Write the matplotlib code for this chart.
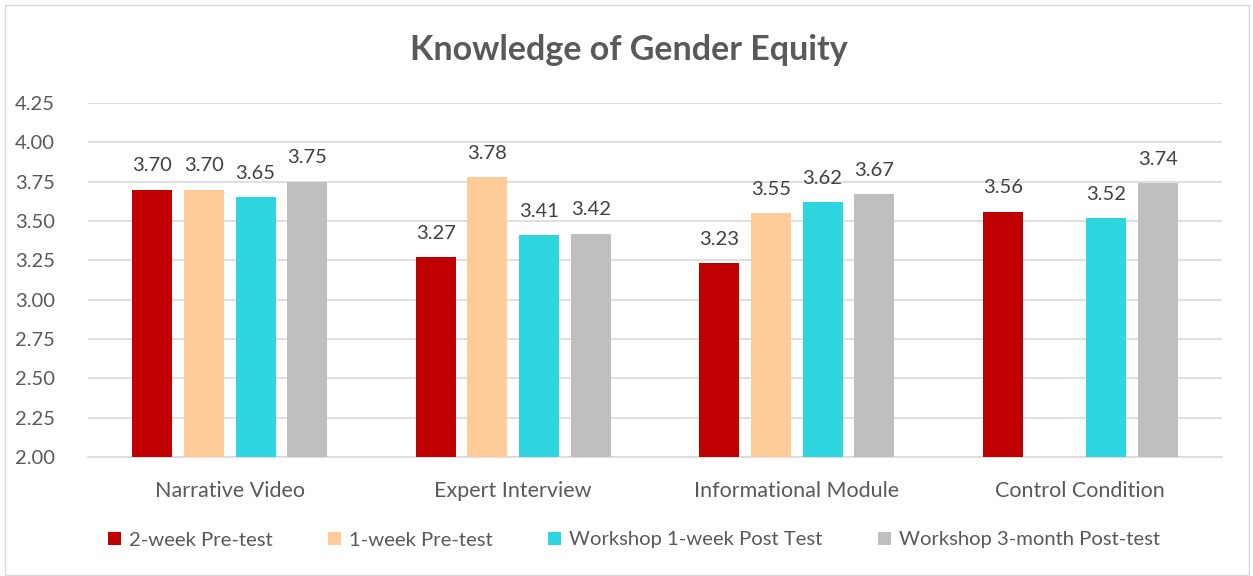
import matplotlib
matplotlib.use("Agg")
import matplotlib.pyplot as plt
import numpy as np
from matplotlib.patches import Rectangle

categories = ["Narrative Video", "Expert Interview", "Informational Module", "Control Condition"]
series_names = ["2-week Pre-test", "1-week Pre-test", "Workshop 1-week Post Test", "Workshop 3-month Post-test"]
two_week_pre = [3.70, 3.27, 3.23, 3.56]
one_week_pre = [3.70, 3.78, 3.55, np.nan]
workshop_1week_post = [3.65, 3.41, 3.62, 3.52]
workshop_3month_post = [3.75, 3.42, 3.67, 3.74]
colors = ["#C00000", "#FFCC99", "#2ED6DF", "#BFBFBF"]
yticks = [2.00, 2.25, 2.50, 2.75, 3.00, 3.25, 3.50, 3.75, 4.00, 4.25]

series = [two_week_pre, one_week_pre, workshop_1week_post, workshop_3month_post]

plt.rcParams['font.family'] = ['Lato', 'DejaVu Sans']
text_color = "#595959"

fig = plt.figure(figsize=(12.53, 5.76), dpi=100)
fig.patches.append(Rectangle((0.004, 0.002), 0.993, 0.99, transform=fig.transFigure,
                             fill=False, edgecolor="#D9D9D9", linewidth=1.0))
ax = fig.add_axes([88/1253, 1 - 457/576, (1222-88)/1253, (457-103)/576])

x = np.arange(len(categories))
step = 0.182
width = 0.141
for i, (vals, name, c) in enumerate(zip(series, series_names, colors)):
    pos = x + (i - 1.5) * step
    ax.bar(pos, vals, width=width, bottom=0, color=c, label=name, zorder=3)
    for p, v in zip(pos, vals):
        if not np.isnan(v):
            ax.annotate(f"{v:.2f}", (p, v), xytext=(0, 11), textcoords="offset points",
                        ha="center", va="bottom", fontsize=14.5, color="#404040")

ax.set_ylim(2.0, 4.25)
ax.set_xlim(-0.5, len(categories) - 0.5)
ax.set_yticks(yticks)
ax.set_yticklabels([f"{t:.2f}" for t in yticks])
ax.set_xticks(x)
ax.set_xticklabels(categories)
ax.tick_params(axis="both", length=0, labelcolor=text_color)
ax.tick_params(axis="y", pad=24, labelsize=14.5)
ax.tick_params(axis="x", pad=17, labelsize=15.5)
ax.grid(axis="y", color="#D9D9D9", linewidth=1.2, zorder=0)
for s in ["top", "right", "left"]:
    ax.spines[s].set_visible(False)
ax.spines["bottom"].set_color("#D9D9D9")
ax.spines["bottom"].set_linewidth(1.2)

fig.text(0.502, 1 - 50/576, "Knowledge of Gender Equity", ha="center", va="center",
         fontsize=24.5, fontweight="bold", color=text_color)

fig.legend(loc="center", bbox_to_anchor=(0.506, 1 - 540/576), ncol=4, frameon=False,
           fontsize=14.6, labelcolor=text_color, handlelength=0.62, handleheight=0.62,
           handletextpad=0.4, columnspacing=2.75)

fig.savefig("out.png", dpi=100)
